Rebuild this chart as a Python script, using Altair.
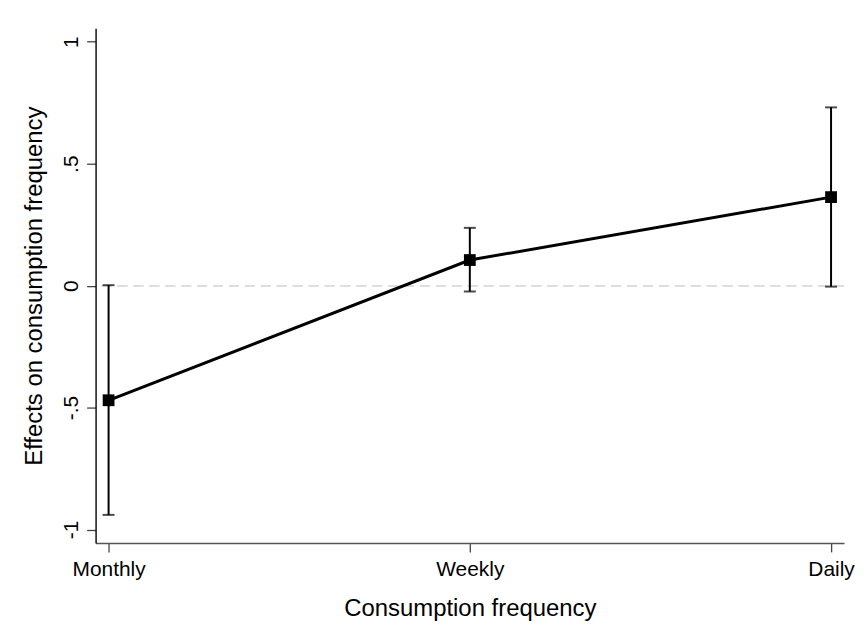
import altair as alt
import pandas as pd

categories = ["Monthly", "Weekly", "Daily"]
positions = [1, 2, 3]
estimates = [-0.470, 0.105, 0.363]
ci_upper = [0.002, 0.237, 0.731]
ci_lower = [-0.940, -0.024, -0.004]

y_ticks = [-1, -0.5, 0, 0.5, 1]
y_tick_labels = ["-1", "-.5", "0", ".5", "1"]

df = pd.DataFrame({
    "pos": positions,
    "cat": categories,
    "est": estimates,
    "hi": ci_upper,
    "lo": ci_lower,
})

x_label_expr = " : ".join(
    f"datum.value == {p} ? '{c}'" for p, c in zip(positions, categories)
) + " : ''"
y_label_expr = " : ".join(
    f"datum.value == {v} ? '{l}'" for v, l in zip(y_ticks, y_tick_labels)
) + " : ''"

FONT = "Liberation Sans"

x_scale = alt.Scale(domain=[0.964, 3.036], nice=False, zero=False)
y_scale = alt.Scale(domain=[-1.055, 1.055], nice=False, zero=False)

x_axis = alt.Axis(
    values=positions,
    labelExpr=x_label_expr,
    title="Consumption frequency",
    grid=False,
    tickSize=9,
    tickWidth=1.3,
    tickColor="#444444",
    domainColor="#555555",
    domainWidth=1.6,
    labelFont=FONT,
    labelFontSize=21,
    labelColor="#000000",
    labelPadding=7,
    labelFlush=False,
    labelOverlap=False,
    titleFont=FONT,
    titleFontSize=24,
    titleFontWeight="normal",
    titleColor="#000000",
    titleBaseline="alphabetic",
    titleY=73,
)

y_axis = alt.Axis(
    values=y_ticks,
    labelExpr=y_label_expr,
    title="Effects on consumption frequency",
    grid=False,
    tickSize=9,
    tickWidth=1.3,
    tickColor="#444444",
    domainColor="#000000",
    domainWidth=1.4,
    labelFont=FONT,
    labelFontSize=21,
    labelColor="#000000",
    labelAngle=270,
    labelAlign="center",
    labelBaseline="alphabetic",
    labelPadding=9,
    labelFlush=False,
    labelOverlap=False,
    titleFont=FONT,
    titleFontSize=24,
    titleFontWeight="normal",
    titleColor="#000000",
    titleAngle=270,
    titleBaseline="alphabetic",
    titleX=-54,
)

base = alt.Chart(df)

zero_line = base.mark_rule(
    color="#dcdcdc", strokeWidth=1.5, strokeDash=[10, 6]
).encode(y=alt.datum(0, scale=y_scale))

bars = base.mark_rule(color="#000000", strokeWidth=2).encode(
    x=alt.X("pos:Q", scale=x_scale, axis=x_axis),
    y=alt.Y("lo:Q", scale=y_scale, axis=y_axis),
    y2="hi:Q",
)

cap_lo = base.mark_tick(
    orient="horizontal", color="#000000", size=12, thickness=2
).encode(
    x=alt.X("pos:Q", scale=x_scale),
    y=alt.Y("lo:Q", scale=y_scale),
)

cap_hi = base.mark_tick(
    orient="horizontal", color="#000000", size=12, thickness=2
).encode(
    x=alt.X("pos:Q", scale=x_scale),
    y=alt.Y("hi:Q", scale=y_scale),
)

line = base.mark_line(color="#000000", strokeWidth=3).encode(
    x=alt.X("pos:Q", scale=x_scale),
    y=alt.Y("est:Q", scale=y_scale),
)

points = base.mark_square(
    color="#000000", size=140, opacity=1, filled=True
).encode(
    x=alt.X("pos:Q", scale=x_scale),
    y=alt.Y("est:Q", scale=y_scale),
)

chart = (
    alt.layer(zero_line, bars, cap_lo, cap_hi, line, points)
    .properties(
        width=752,
        height=517,
        autosize=alt.AutoSizeParams(type="none"),
        padding={"left": 88, "top": 19, "right": 12, "bottom": 82},
        background="#ffffff",
    )
    .configure_view(stroke=None)
)

chart.save("out.html", embed_options={"renderer": "svg", "actions": False})
